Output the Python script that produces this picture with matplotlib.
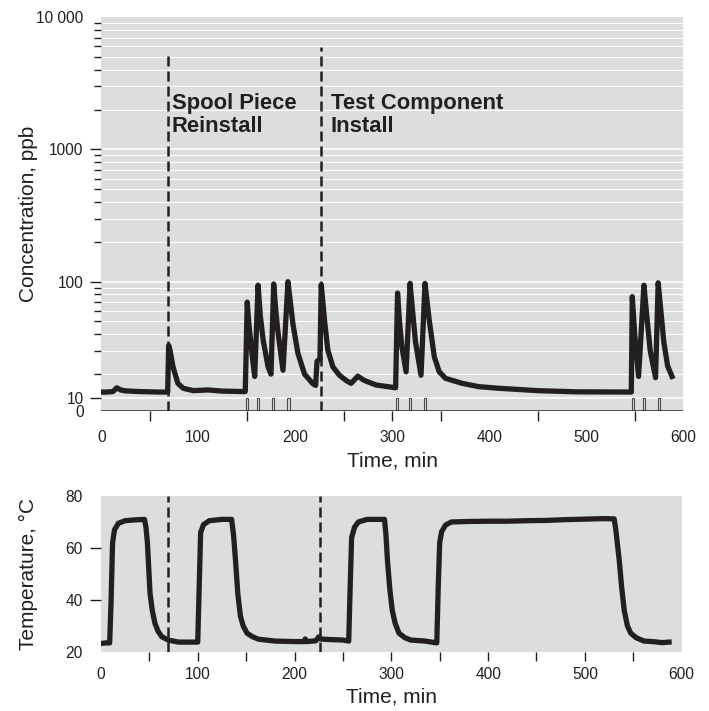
import numpy as np
import matplotlib
matplotlib.use("Agg")
import matplotlib.pyplot as plt

plt.rcParams['font.family'] = ['Liberation Sans', 'DejaVu Sans']

# concentration trace, ppb
conc_time = [0, 5, 12, 16, 20, 25, 40, 60, 68.5, 69.5, 71, 74, 79, 84.5, 95, 110, 125, 148.5,
             150.5, 152, 155, 158.2, 161.7, 164, 167, 172, 175, 177.8, 180, 182.2, 187.4,
             192.5, 195, 197.6, 202.8, 209.6, 218, 221, 222.5, 225.5, 226.8, 228.5, 230.2,
             233.6, 238.8, 245.6, 252.5, 257.6, 264.5, 271.3, 283.3, 297, 303.5, 305.5,
             307.5, 310, 314.3, 318.4, 321, 324, 329.7, 333.8, 336, 338.2, 343.4, 348.5,
             355, 372, 389, 410, 450, 490, 546.5, 547.5, 550, 554, 559.5, 562, 566, 571.5,
             574.2, 577, 580, 584, 588.5]
conc_ppb = [12.4, 12.4, 12.6, 14.2, 13.3, 12.9, 12.6, 12.4, 12.4, 33, 30, 22.7, 16.1, 14, 13,
            13.3, 12.8, 12.6, 70, 50, 30, 19, 94, 55, 36, 22.7, 20, 96, 60, 41.6, 21.4,
            100, 70, 48, 28.7, 20, 16, 15.2, 25, 26, 95, 70, 51,
            30.4, 22.7, 19.5, 17.3, 16.1, 19.1, 17.3, 15.4, 14.6, 14.2, 82,
            50, 32, 20.8, 97, 60, 35, 19.5, 97, 70, 51, 27, 20.8,
            18.2, 16.1, 14.7, 14, 13, 12.5, 12.4, 77, 40, 19, 94, 60, 30, 18.5,
            98, 60, 35, 23, 19]

# valve pulses on the zero line
pulse_time = [150, 162, 177, 193, 305, 318, 334, 548, 560, 575]
pulse_height = [10, 10, 10, 10, 10, 10, 10, 10, 10, 10]

# temperature trace, deg C
temp_time = [0.5, 5, 9, 10.5, 12, 14, 18, 25, 35, 45, 46.5, 48, 50.7, 53, 55.8, 59, 62.7,
             69.5, 80, 100, 101.5, 103, 106, 112, 125, 135, 137, 139, 141.5, 144.2, 147,
             151, 157, 163, 180, 200, 210, 211, 212, 222, 225, 227, 235, 250, 256, 257.5,
             259, 262, 266, 275, 285, 293, 294.5, 296, 298.5, 301, 304, 308, 314, 320, 335,
             347, 348.5, 350, 352, 356, 362, 380, 400, 420, 440, 460, 480, 500, 520, 530.3,
             532, 535.5, 538, 540.7, 544, 547.5, 553, 561, 570, 580, 587]
temp_c = [23.3, 23.5, 23.5, 40, 62, 67, 69.5, 70.5, 70.8, 71, 68, 62, 42.6, 36, 31, 28, 25.9,
          24.6, 23.8, 23.8, 45, 66, 69, 70.5, 71, 71, 65, 55.4, 42, 33.6, 30,
          27.2, 25.8, 24.9, 24.2, 24, 24, 25, 24, 24.3, 25.8, 25, 24.8, 24.6, 24.2, 45,
          64, 68, 70, 71, 71, 71, 65, 55.4, 44, 36, 31, 27.2, 25.5, 24.6, 24.2,
          23.5, 45, 62, 66.3, 68.8, 70, 70.2, 70.3, 70.3, 70.5, 70.6, 70.9, 71.1, 71.3, 71.2,
          67, 55.4, 45, 36, 30, 27.2, 25.5, 24.2, 24, 23.6, 23.8]

events = [69, 226.7]
event_top = [5200, 5900]
event_labels = ["Spool Piece\nReinstall", "Test Component\nInstall"]
event_text_x = [72.5, 236.5]

# broken log axis: log above 20, squeezed down to 0 below
lo_vals = [0, 10, 20]
lo_pos = [1.022, 1.1225, np.log10(20)]


def fwd(v):
    v = np.asarray(v, dtype=float)
    return np.where(v >= 20, np.log10(np.maximum(v, 20)), np.interp(v, lo_vals, lo_pos))


def inv(p):
    p = np.asarray(p, dtype=float)
    return np.where(p >= lo_pos[-1], 10 ** p, np.interp(p, lo_pos, lo_vals))


bg = '#dcdddf'
ink = '#231f20'
fs_tick = 11.2
fs_lab = 15

fig = plt.figure(figsize=(7.09, 7.11), dpi=100)
ax1 = fig.add_axes([0.1428, 0.4219, 0.8208, 0.5541])
ax2 = fig.add_axes([0.1424, 0.0830, 0.8190, 0.2194])

# ---- top panel ----
ax1.set_facecolor(bg)
ax1.set_yscale('function', functions=(fwd, inv))
ax1.set_xlim(0, 600)
ax1.set_ylim(0, 10000)

minor_y = [20, 30, 40, 50, 60, 70, 80, 90, 200, 300, 400, 500, 600, 700, 800, 900,
           2000, 3000, 4000, 5000, 6000, 7000, 8000, 9000]
for yv in minor_y:
    ax1.axhline(yv, color='white', lw=0.8, zorder=0.5)
for yv in [10, 100, 1000]:
    ax1.axhline(yv, color='white', lw=1.1, zorder=0.5)

ax1.plot(conc_time, conc_ppb, color=ink, lw=3.8, solid_joinstyle='round', zorder=3)
ax1.plot([0, 600], [0, 0], color=ink, lw=1.8, zorder=3)
ax1.bar(pulse_time, pulse_height, width=2.2, bottom=0, fill=False,
        edgecolor='#4a4a4a', lw=0.8, zorder=2)

for t, top in zip(events, event_top):
    ax1.plot([t, t], [0, top], color=ink, lw=1.8, ls=(0, (4, 2)), zorder=4)
for tx, lab in zip(event_text_x, event_labels):
    ax1.text(tx, 2650, lab, fontsize=15.8, fontweight='bold', color=ink,
             va='top', ha='left', linespacing=1.1, zorder=5)

ax1.set_yticks([0, 10, 100, 1000, 10000])
ax1.set_yticklabels(['0', '10', '100', '1000', '10 000'])
ax1.set_yticks(minor_y, minor=True)
ax1.yaxis.set_minor_formatter(matplotlib.ticker.NullFormatter())
ax1.tick_params(axis='y', which='major', length=7.7, width=1, color=ink, pad=5,
                labelsize=fs_tick, labelcolor=ink)
ax1.tick_params(axis='y', which='minor', length=4.8, width=1, color=ink)
yt = ax1.yaxis.get_major_ticks()
yt[0].tick1line.set_visible(False)
yt[-1].tick1line.set_visible(False)

ax1.xaxis.remove_overlapping_locs = False
ax1.set_xticks([0, 100, 200, 300, 400, 500, 600])
ax1.set_xticks([50, 150, 250, 300, 350, 450, 550], minor=True)
ax1.tick_params(axis='x', which='major', length=0, pad=14, labelsize=fs_tick,
                labelcolor=ink)
ax1.tick_params(axis='x', which='minor', length=7.2, width=1, color=ink)
ax1.set_xlabel('Time, min', fontsize=fs_lab, color=ink, labelpad=4)
ax1.set_ylabel('Concentration, ppb', fontsize=fs_lab, color=ink, labelpad=1)
ax1.yaxis.set_label_coords(-0.108, 0.5)
for s in ax1.spines.values():
    s.set_visible(False)

# ---- bottom panel ----
ax2.set_facecolor(bg)
ax2.set_xlim(0, 600)
ax2.set_ylim(20, 80)
ax2.plot(temp_time, temp_c, color=ink, lw=3.8, solid_joinstyle='round', zorder=3)
for t in events:
    ax2.axvline(t, color=ink, lw=1.8, ls=(0, (4, 2)), zorder=4)

ax2.set_yticks([20, 40, 60, 80])
ax2.tick_params(axis='y', which='major', length=8, width=1, color=ink, pad=5,
                labelsize=fs_tick, labelcolor=ink)
yt2 = ax2.yaxis.get_major_ticks()
yt2[0].tick1line.set_visible(False)
yt2[-1].tick1line.set_visible(False)

ax2.set_xticks([0, 100, 200, 300, 400, 500, 600])
ax2.set_xticks([50, 100, 150, 200, 250, 300, 350, 400, 450, 500, 550], minor=True)
ax2.xaxis.remove_overlapping_locs = False
ax2.tick_params(axis='x', which='major', length=0, pad=11, labelsize=fs_tick,
                labelcolor=ink)
ax2.tick_params(axis='x', which='minor', length=6.5, width=1, color=ink, pad=2)
ax2.set_xlabel('Time, min', fontsize=fs_lab, color=ink, labelpad=4)
ax2.set_ylabel('Temperature, \u00b0C', fontsize=fs_lab, color=ink)
ax2.yaxis.set_label_coords(-0.108, 0.5)
for s in ax2.spines.values():
    s.set_visible(False)

fig.savefig('out.png', dpi=100, facecolor='white')
